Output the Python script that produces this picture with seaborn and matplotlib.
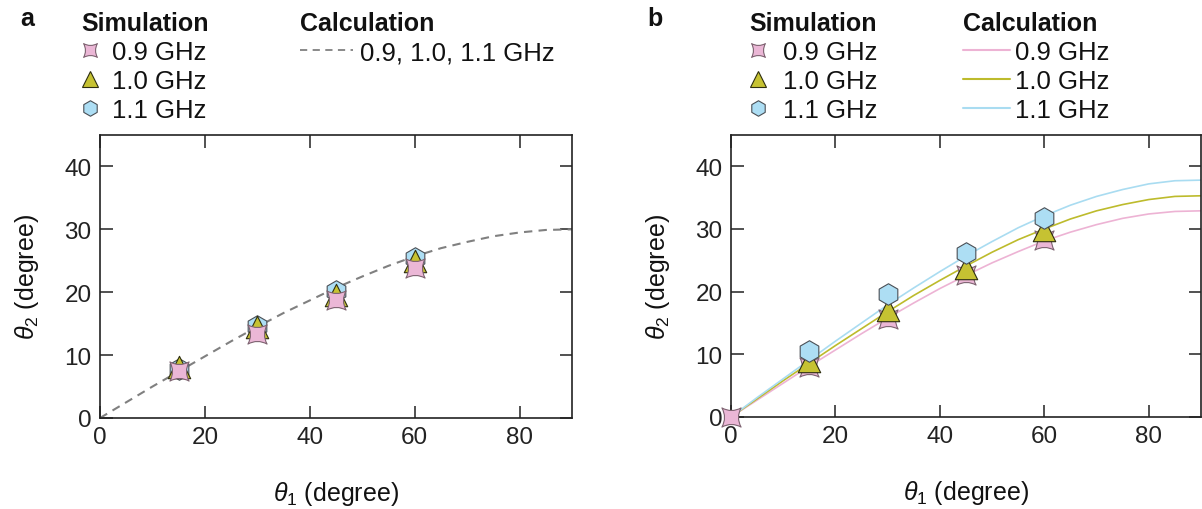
import matplotlib

matplotlib.use("Agg")
import matplotlib.pyplot as plt
import numpy as np
import seaborn as sns
from matplotlib.lines import Line2D
from matplotlib.markers import MarkerStyle
from matplotlib.path import Path

# ---- data ----
freq_labels = ["0.9 GHz", "1.0 GHz", "1.1 GHz"]

# panel a: simulation points
a_theta1 = [15, 30, 45, 60]
a_sim_09 = [7.4, 13.3, 18.7, 23.9]
a_sim_10 = [8.1, 14.5, 19.5, 25.0]
a_sim_11 = [7.8, 14.6, 20.2, 25.5]

# panel a: calculation (same curve for all frequencies)
calc_theta1 = [0, 5, 10, 15, 20, 25, 30, 35, 40, 45, 50, 55, 60, 65, 70, 75, 80, 85, 90]
a_calc = [0, 2.5, 5.0, 7.4, 9.8, 12.2, 14.5, 16.7, 18.7, 20.7, 22.5, 24.2, 25.7,
          27.0, 28.0, 28.9, 29.5, 29.9, 30.0]

# panel b: simulation points
b_theta1_09 = [0, 15, 30, 45, 60]
b_sim_09 = [0, 7.9, 15.6, 22.6, 28.3]
b_theta1 = [15, 30, 45, 60]
b_sim_10 = [9.0, 17.0, 23.8, 29.8]
b_sim_11 = [10.5, 19.6, 26.1, 31.7]

# panel b: calculation curves
b_calc_09 = [0, 2.7, 5.4, 8.1, 10.7, 13.3, 15.8, 18.2, 20.5, 22.6, 24.6, 26.4, 28.1,
             29.5, 30.7, 31.7, 32.4, 32.8, 32.9]
b_calc_10 = [0, 2.9, 5.8, 8.6, 11.4, 14.1, 16.8, 19.4, 21.8, 24.1, 26.3, 28.3, 30.0,
             31.6, 32.9, 33.9, 34.7, 35.2, 35.3]
b_calc_11 = [0, 3.1, 6.1, 9.1, 12.1, 15.0, 17.9, 20.6, 23.2, 25.7, 28.0, 30.2, 32.1,
             33.8, 35.2, 36.3, 37.2, 37.7, 37.8]

x_ticks = [0, 20, 40, 60, 80]
y_ticks = [0, 10, 20, 30, 40]

# ---- styling ----
PINK, PINK_EDGE = "#EBB7D6", "#7d6270"
OLIVE, OLIVE_EDGE = "#C6C232", "#2e2e10"
BLUE, BLUE_EDGE = "#ADDEF4", "#4a4f55"
PINK_LINE, OLIVE_LINE, BLUE_LINE = "#EDB3D4", "#BDBB2C", "#A9DCF1"
W, H = 1202, 510

sns.set_theme(style="ticks")
plt.rcParams.update({
    "font.family": ["Liberation Sans", "DejaVu Sans"],
    "mathtext.fontset": "custom",
    "mathtext.rm": "Liberation Sans",
    "mathtext.it": "Liberation Sans:italic",
    "axes.linewidth": 1.2,
    "axes.edgecolor": "#222222",
    "xtick.color": "#222222",
    "ytick.color": "#222222",
    "text.color": "#111111",
    "axes.labelcolor": "#111111",
})

# concave four-point "pillow" marker
verts = [(-1, -1), (0, -0.45), (1, -1), (0.45, 0), (1, 1), (0, 0.45), (-1, 1),
         (-0.45, 0), (-1, -1), (-1, -1)]
codes = [Path.MOVETO, Path.CURVE3, Path.CURVE3, Path.CURVE3, Path.CURVE3,
         Path.CURVE3, Path.CURVE3, Path.CURVE3, Path.CURVE3, Path.CLOSEPOLY]
PILLOW = MarkerStyle(Path(verts, codes))

SIM_STYLE = {
    "0.9 GHz": dict(marker=PILLOW, color=PINK, edgecolor=PINK_EDGE, s=190),
    "1.0 GHz": dict(marker="^", color=OLIVE, edgecolor=OLIVE_EDGE, s=260),
    "1.1 GHz": dict(marker="h", color=BLUE, edgecolor=BLUE_EDGE, s=240),
}

fig = plt.figure(figsize=(W / 100, H / 100), dpi=100)
ax_a = fig.add_axes([100 / W, 1 - 419 / H, 472 / W, 283 / H])
ax_b = fig.add_axes([731 / W, 1 - 418 / H, 470 / W, 282 / H])


def scatter(ax, x, y, label, z):
    st = SIM_STYLE[label]
    sns.scatterplot(x=x, y=y, ax=ax, marker=st["marker"], color=st["color"],
                    edgecolor=st["edgecolor"], linewidth=0.8, s=st["s"], zorder=z,
                    legend=False, clip_on=False)


def style_axes(ax):
    ax.set_xlim(0, 90)
    ax.set_ylim(0, 45)
    ax.set_xticks(x_ticks)
    ax.set_yticks(y_ticks)
    ax.tick_params(direction="in", length=9, width=1.1, labelsize=17.5,
                   top=True, right=True, pad=6)
    ax.set_xlabel(r"$\theta_1$ (degree)", fontsize=18, labelpad=22)
    ax.set_ylabel(r"$\theta_2$ (degree)", fontsize=18, labelpad=17)
    for sp in ax.spines.values():
        sp.set_visible(True)


def sim_handles():
    out = []
    for lab in freq_labels:
        st = SIM_STYLE[lab]
        out.append(Line2D([], [], linestyle="", marker=st["marker"],
                          markersize=np.sqrt(st["s"]) * 0.72,
                          markerfacecolor=st["color"], markeredgecolor=st["edgecolor"],
                          markeredgewidth=0.8, label=lab))
    return out


LEG_TOP = 1 - 12 / H
LEG_KW = dict(frameon=False, fontsize=18.5, borderpad=0, borderaxespad=0,
              labelspacing=0.2, loc="upper left", alignment="left",
              bbox_transform=fig.transFigure,
              title_fontproperties={"weight": "bold", "size": 18})

# ---- panel a ----
sns.lineplot(x=calc_theta1, y=a_calc, ax=ax_a, color="#808080", linewidth=1.5,
             zorder=2, linestyle=(0, (4, 3)))
scatter(ax_a, a_theta1, a_sim_11, "1.1 GHz", 3)
scatter(ax_a, a_theta1, a_sim_10, "1.0 GHz", 4)
scatter(ax_a, a_theta1, a_sim_09, "0.9 GHz", 5)
style_axes(ax_a)

leg1 = ax_a.legend(handles=sim_handles(), title="Simulation",
                   bbox_to_anchor=(81 / W, LEG_TOP),
                   handlelength=0.7, handletextpad=0.5, **LEG_KW)
ax_a.add_artist(leg1)
calc_a = [Line2D([], [], color="#808080", linewidth=1.3, linestyle=(0, (4, 3)),
                 label="0.9, 1.0, 1.1 GHz")]
ax_a.legend(handles=calc_a, title="Calculation",
            bbox_to_anchor=(300 / W, LEG_TOP),
            handlelength=2.06, handletextpad=0.27, **LEG_KW)

# ---- panel b ----
sns.lineplot(x=calc_theta1, y=b_calc_09, ax=ax_b, color=PINK_LINE, linewidth=1.2, zorder=2)
sns.lineplot(x=calc_theta1, y=b_calc_10, ax=ax_b, color=OLIVE_LINE, linewidth=1.2, zorder=2)
sns.lineplot(x=calc_theta1, y=b_calc_11, ax=ax_b, color=BLUE_LINE, linewidth=1.2, zorder=2)
scatter(ax_b, b_theta1_09, b_sim_09, "0.9 GHz", 3)
scatter(ax_b, b_theta1, b_sim_10, "1.0 GHz", 4)
scatter(ax_b, b_theta1, b_sim_11, "1.1 GHz", 5)
style_axes(ax_b)

leg2 = ax_b.legend(handles=sim_handles(), title="Simulation",
                   bbox_to_anchor=(749 / W, LEG_TOP),
                   handlelength=0.7, handletextpad=0.62, **LEG_KW)
ax_b.add_artist(leg2)
calc_b = [Line2D([], [], color=c, linewidth=1.5, label=lab)
          for c, lab in zip([PINK_LINE, OLIVE_LINE, BLUE_LINE], freq_labels)]
ax_b.legend(handles=calc_b, title="Calculation",
            bbox_to_anchor=(963 / W, LEG_TOP),
            handlelength=1.83, handletextpad=0.2, **LEG_KW)

fig.text(20 / W, 1 - 19 / H, "a", fontsize=18, fontweight="bold", va="center")
fig.text(647 / W, 1 - 19 / H, "b", fontsize=18, fontweight="bold", va="center")

fig.savefig("out.png", dpi=100)
